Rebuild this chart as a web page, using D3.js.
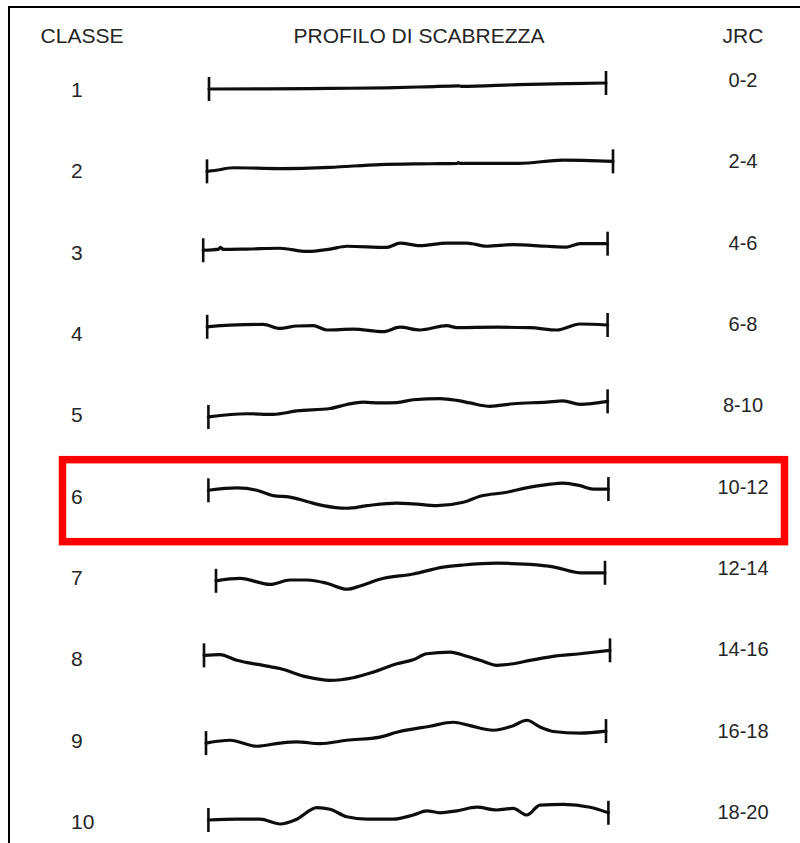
<!DOCTYPE html>
<html>
<head>
<meta charset="utf-8">
<script src="https://cdn.jsdelivr.net/npm/d3@7"></script>
<style>
  html, body { margin: 0; padding: 0; background: #fff; }
  svg { display: block; }
  text { font-family: "Liberation Sans", Arial, sans-serif; fill: #262626; }
</style>
</head>
<body>
<svg id="chart" width="800" height="843"></svg>
<script>
// ---- data ----
const headers = ["CLASSE", "PROFILO DI SCABREZZA", "JRC"];
const classes = ["1", "2", "3", "4", "5", "6", "7", "8", "9", "10"];
const jrcRanges = ["0-2", "2-4", "4-6", "6-8", "8-10", "10-12", "12-14", "14-16", "16-18", "18-20"];
const highlightedClass = "6";

// profile points: [position along profile (mm, 0-100), height (mm)]
const profile1 = [[0.75,-0.75],[15,-0.7],[31,-0.6],[45,-0.45],[55,-0.2],[63.3,0.05],[63.8,-0.1],[78,0.35],[90,0.6],[100,0.75]];
const profile2 = [[0.25,-1],[2.25,-0.8],[6.75,-0.1],[18.5,-0.3],[31,0],[43.5,0.7],[56,0.9],[62.8,1],[63.1,1.2],[63.5,1],[78.25,1],[89.25,1.8],[96,1.7],[101.75,1.5]];
const profile3 = [[-0.7,-0.4],[3.2,-0.1],[3.6,0.35],[4.3,-0.2],[10.2,-0.1],[18.5,0.1],[25.2,-0.7],[31,-0.1],[35.2,0.6],[45.2,0.3],[48.5,1.4],[53.5,0.75],[60.2,1.4],[65.2,1.4],[70.2,0.6],[76.8,1],[85.2,0.6],[90.2,0.4],[93.5,1.25],[100.4,1.25]];
const profile4 = [[0.3,0.8],[6,1.2],[14.3,1.4],[18.5,0.4],[22.7,1],[26.8,1.1],[30.2,0],[36.8,0.2],[44.3,-0.4],[48.5,0.7],[53.5,0],[60.2,1.1],[62.7,0.6],[72.7,0.7],[81,0.6],[87.7,0],[93.5,1.5],[100.4,1.25]];
const profile5 = [[0.6,-1.4],[10.2,-0.6],[16.8,-0.75],[22.7,0.1],[31,0.7],[35.2,1.7],[39.3,2.3],[43.5,2.1],[47.7,2.2],[51.8,2.9],[58.5,3.2],[62.7,2.75],[66,2.1],[71,1.25],[76.8,1.9],[85.2,2.3],[89.3,2.6],[93.5,1.75],[100.4,2.5]];
const profile6 = [[0.6,0.6],[7.7,1.2],[12.7,0.6],[16.8,-0.75],[21,-1.1],[25.2,-2.2],[29.3,-3.25],[35.2,-3.9],[40.2,-3.25],[47.7,-2.6],[51.8,-2.8],[57.7,-3.25],[64.3,-2.4],[68.5,-0.9],[75.2,0.1],[81,1.4],[85.2,2],[89.3,2.4],[93.5,1.75],[96.8,0.9],[100.6,0.9]];
const profile7 = [[2.5,-1.7],[8.5,-1.1],[16,-2.6],[21,-1.5],[25.2,-1.5],[30.2,-2.3],[35.2,-3.8],[38.5,-3],[43.5,-1.3],[51.8,0],[59.3,1.7],[64.3,2.25],[72.7,2.7],[81,2.4],[86.8,1.8],[93.5,0.3],[99.75,0.3]];
const profile8 = [[-0.5,0],[3.5,0.2],[7.7,-1.25],[14.3,-2.5],[18.5,-3.3],[25.2,-5.4],[31,-6.25],[36.8,-5.6],[41.8,-4.2],[47.7,-2.1],[51.8,-1.1],[55.2,0.4],[61,0.8],[65.2,-0.25],[68.5,-1.25],[72.7,-2.5],[76.8,-2.1],[81,-1.25],[86.8,-0.25],[93.5,0.4],[101,1.25]];
const profile9 = [[0,-1.6],[6,-0.9],[12.7,-2.4],[18.5,-1.6],[22.7,-1.3],[28.5,-1.75],[35.2,-0.9],[43.5,-0.1],[47.7,1.1],[56,2.6],[61.8,3.6],[66,2.75],[71.8,1.6],[76.8,2.75],[80.2,4.1],[83.5,2.4],[86.8,1.3],[93.5,0.9],[100,1.4]];
const profile10 = [[0.6,-0.5],[7.7,-0.3],[13.5,-0.3],[18.5,-1.5],[22.7,-0.3],[27.7,2.6],[31,2.2],[35.2,0.3],[40.2,-0.3],[46.8,-0.3],[51.8,0.75],[55.2,1.8],[58.5,1.3],[62.7,1.8],[67.7,2.7],[72.7,2],[76.8,2.4],[80.2,0.75],[83.5,3.2],[89.3,3.4],[96,2.7],[100.6,1.3]];
const profiles = [profile1, profile2, profile3, profile4, profile5, profile6, profile7, profile8, profile9, profile10];

// ---- drawing ----
const svg = d3.select("#chart");
const W = 800, H = 843;

const x = d3.scaleLinear().domain([0, 100]).range([206, 606]);
const row = d3.scalePoint().domain(classes).range([86, 818]);
const dy = d3.scaleLinear().domain([-10, 10]).range([40, -40]);

// slight blur to mimic scanned ink
const defs = svg.append("defs");
defs.append("filter").attr("id", "ink")
  .attr("x", "-5%").attr("y", "-50%").attr("width", "110%").attr("height", "200%")
  .append("feGaussianBlur").attr("stdDeviation", 0.45);

// frame (left and top border)
svg.append("path")
  .attr("d", `M9,${H} V7 H${W}`)
  .attr("fill", "none")
  .attr("stroke", "#000")
  .attr("stroke-width", 2);

// headers
const headerX = [82, 419, 743];
svg.selectAll("text.header")
  .data(headers)
  .join("text")
  .attr("class", "header")
  .attr("x", (d, i) => headerX[i])
  .attr("y", 43)
  .attr("text-anchor", "middle")
  .attr("font-size", 21)
  .text(d => d);

// highlight box
svg.append("rect")
  .attr("x", 62.5)
  .attr("y", row(highlightedClass) - 33)
  .attr("width", 722)
  .attr("height", 82)
  .attr("fill", "none")
  .attr("stroke", "#ff0000")
  .attr("stroke-width", 7.5);

// class labels
svg.selectAll("text.cls")
  .data(classes)
  .join("text")
  .attr("class", "cls")
  .attr("x", 71)
  .attr("y", d => row(d) + 11)
  .attr("font-size", 21)
  .text(d => d);

// JRC labels
svg.selectAll("text.jrc")
  .data(jrcRanges)
  .join("text")
  .attr("class", "jrc")
  .attr("x", 743)
  .attr("y", (d, i) => row(classes[i]) + 1)
  .attr("text-anchor", "middle")
  .attr("font-size", 20)
  .text(d => d);

// profiles
const line = d3.line()
  .x(d => x(d[0]))
  .y(d => dy(d[1]))
  .curve(d3.curveMonotoneX);

const g = svg.selectAll("g.profile")
  .data(profiles)
  .join("g")
  .attr("class", "profile")
  .attr("transform", (d, i) => `translate(0,${row(classes[i])})`)
  .attr("filter", "url(#ink)");

g.append("path")
  .attr("d", d => line(d))
  .attr("fill", "none")
  .attr("stroke", "#111")
  .attr("stroke-width", 3.2)
  .attr("stroke-linejoin", "round")
  .attr("stroke-linecap", "round");

// end ticks
g.selectAll("line.tick")
  .data(d => [d[0], d[d.length - 1]])
  .join("line")
  .attr("class", "tick")
  .attr("x1", d => x(d[0]))
  .attr("x2", d => x(d[0]))
  .attr("y1", d => dy(d[1]) - 12)
  .attr("y2", d => dy(d[1]) + 12)
  .attr("stroke", "#111")
  .attr("stroke-width", 2.6);
</script>
</body>
</html>
